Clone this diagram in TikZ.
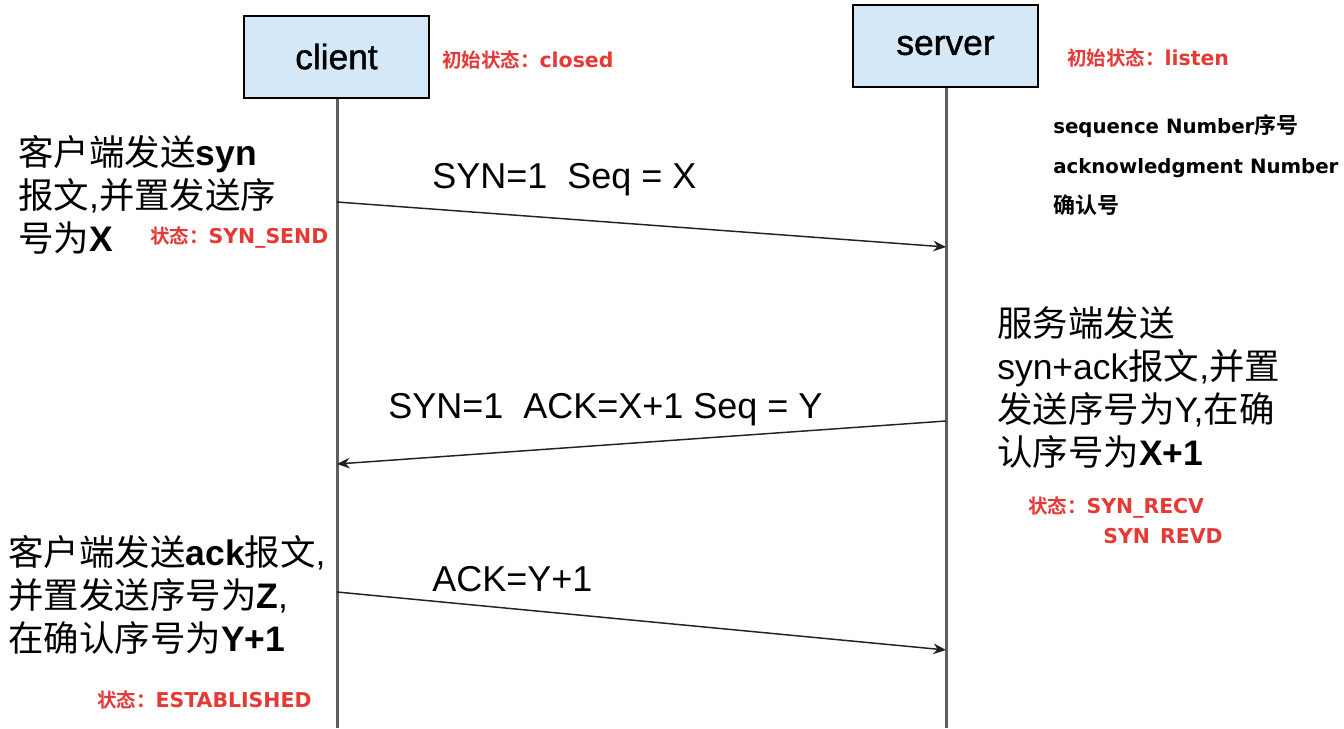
\documentclass[tikz,border=0pt]{standalone}
\usepackage{fontspec}
\usetikzlibrary{arrows.meta}
\setmainfont{Liberation Sans}
\newfontfamily\cjkreg{Noto Sans CJK SC}
\newfontfamily\cjkbold{Noto Sans CJK SC Bold}
\newfontfamily\dvbold{DejaVu Sans Bold}[Scale=1.05]
\newfontfamily\actorfont{Liberation Sans}[FakeBold=1.2]
\newcommand\Hz[1]{{\cjkreg #1}}
\newcommand\Hb[1]{{\cjkbold #1}}
\newcommand\Hn[1]{{\fontsize{16.5}{18}\selectfont\cjkbold #1}}
\newcommand\Lb[1]{{\bfseries #1}}
\definecolor{myred}{HTML}{E53935}
\definecolor{boxblue}{HTML}{D5E8F8}
\definecolor{lifegray}{HTML}{5E5E5E}
\definecolor{msgc}{HTML}{222222}
\begin{document}
\begin{tikzpicture}[x=0.75pt,y=-0.75pt,
  mainline/.style={anchor=base west, inner sep=0pt, font=\fontsize{26.6}{30}\selectfont},
  redtext/.style={anchor=base west, inner sep=0pt, text=myred, font=\fontsize{14.6}{17}\selectfont\dvbold},
  notetext/.style={anchor=base west, inner sep=0pt, font=\fontsize{14.1}{18}\selectfont\dvbold},
  msglabel/.style={anchor=base west, inner sep=0pt, font=\fontsize{27}{30}\selectfont},
  actor/.style={draw=black, line width=1.5pt, fill=boxblue, minimum width=138.75pt, minimum height=61.5pt, inner sep=0pt, font=\fontsize{26.5}{30}\selectfont\actorfont},
  life/.style={line width=2.25pt, draw=lifegray},
  msg/.style={line width=1.1pt, draw=msgc, -{Stealth[length=9.5pt,width=8pt]}}]
\fill[white] (0,0) rectangle (1344,728);
\useasboundingbox (0,0) rectangle (1344,728);

% actors
\node[actor] (client) at (336.5,56.5) {client};
\node[actor] (server) at (945.5,45.5) {server};

% lifeline ends and message points
\coordinate (cend) at (337,728);
\coordinate (send) at (946,728);
\coordinate (a1s) at (337,202);
\coordinate (a1e) at (946,247);
\coordinate (a2s) at (946,421);
\coordinate (a2e) at (337,464);
\coordinate (a3s) at (337,592);
\coordinate (a3e) at (946,650);

\draw[life] (client.south -| cend) -- (cend);
\draw[life] (server.south -| send) -- (send);

\draw[msg] (a1s) -- (a1e);
\draw[msg] (a2s) -- (a2e);
\draw[msg] (a3s) -- (a3e);

% message labels
\node[msglabel] (m1) at (432,188) {SYN=1\ \ Seq = X};
\node[msglabel] (m2) at (388,418) {SYN=1\ \ ACK=X+1 Seq = Y};
\node[msglabel] (m3) at (432,591) {ACK=Y+1};

% top states
\node[redtext] (cinit) at (442,67) {\Hb{初始状态：}closed};
\node[redtext] (sinit) at (1067,65) {\Hb{初始状态：}listen};

% notes
\node[notetext] (n1) at (1053,133) {sequence Number\Hn{序号}};
\node[notetext] (n2) at (1053,173) {acknowledgment Number};
\node[notetext] (n3) at (1053,213) {\Hn{确认号}};

% client step 1
\node[mainline] (c1a) at (18,165) {\Hz{客户端发送}\Lb{syn}};
\node[mainline] (c1b) at (18,208) {\Hz{报文},\Hz{并置发送序}};
\node[mainline] (c1c) at (18,251) {\Hz{号为}\Lb{X}};
\node[redtext] (c1s) at (150,243) {\Hb{状态：}SYN\_SEND};

% server step
\node[mainline] (s1a) at (997,336) {\Hz{服务端发送}};
\node[mainline] (s1b) at (997,379) {syn+ack\Hz{报文},\Hz{并置}};
\node[mainline] (s1c) at (997,422) {\Hz{发送序号为}Y,\Hz{在确}};
\node[mainline] (s1d) at (997,465) {\Hz{认序号为}\Lb{X+1}};
\node[redtext] (s1s) at (1028,513) {\Hb{状态：}SYN\_RECV};
\node[redtext] (s1t) at (1103,543) {SYN \hspace{0.15em}REVD};

% client step 2
\node[mainline] (c2a) at (8,565) {\Hz{客户端发送}\Lb{ack}\Hz{报文},};
\node[mainline] (c2b) at (8,608) {\Hz{并置发送序号为}\Lb{Z},};
\node[mainline] (c2c) at (8,651) {\Hz{在确认序号为}\Lb{Y+1}};
\node[redtext] (c2s) at (97,707) {\Hb{状态：}ESTABLISHED};
\end{tikzpicture}
\end{document}
